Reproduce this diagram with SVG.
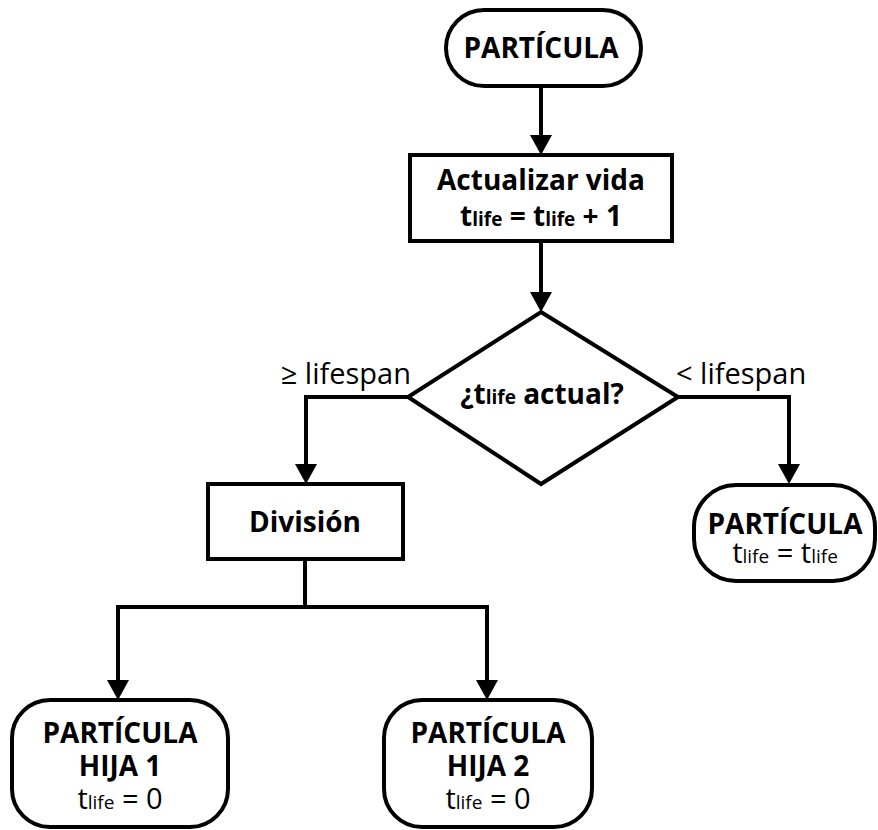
<svg xmlns="http://www.w3.org/2000/svg" width="878" height="830" viewBox="0 0 878 830">
  <style>
    .shape { fill: #ffffff; stroke: #000000; stroke-width: 4; }
    .wire { fill: none; stroke: #000000; stroke-width: 4; }
    text { font-family: "Open Sans", "Noto Sans", "DejaVu Sans", sans-serif; font-size: 29px; fill: #000000; text-anchor: middle; }
    .b { font-weight: bold; font-size: 28px; }
    .sub { font-size: 19px; }
    .lbl { text-anchor: start; }
    .lblr { text-anchor: end; }
  </style>
  <defs>
    <marker id="arrow" viewBox="0 0 20 22" refX="10" refY="11" markerWidth="20" markerHeight="22" markerUnits="userSpaceOnUse" orient="auto">
      <path d="M0,0 L20,11 L0,22 Z" fill="#000000"/>
    </marker>
  </defs>

  <!-- connectors -->
  <g id="connectors">
    <path class="wire" d="M541,86 V145" marker-end="url(#arrow)"/>
    <path class="wire" d="M541,241 V302" marker-end="url(#arrow)"/>
    <path class="wire" d="M408,397 H306 V474" marker-end="url(#arrow)"/>
    <path class="wire" d="M678,397 H789 V474" marker-end="url(#arrow)"/>
    <path class="wire" d="M305,559 V607"/>
    <path class="wire" d="M118,607 H487"/>
    <path class="wire" d="M118,605 V690" marker-end="url(#arrow)"/>
    <path class="wire" d="M487,605 V690" marker-end="url(#arrow)"/>
    <text class="lblr" x="411" y="384">≥ lifespan</text>
    <text class="lbl" x="676" y="384">&lt; lifespan</text>
  </g>

  <!-- start terminal -->
  <g id="start">
    <rect class="shape" x="446" y="10" width="195" height="76" rx="38" ry="38"/>
    <text class="b" x="541" y="58">PARTÍCULA</text>
  </g>

  <!-- life update -->
  <g id="update">
    <rect class="shape" x="410" y="155" width="262" height="86"/>
    <text class="b" x="541" y="190">Actualizar vida</text>
    <text class="b" x="541" y="226">t<tspan class="sub">life</tspan> = t<tspan class="sub">life</tspan> + 1</text>
  </g>

  <!-- decision -->
  <g id="decision">
    <polygon class="shape" points="541,312 678,397 541,484 408,397"/>
    <text class="b" x="542" y="404">¿t<tspan class="sub">life</tspan> actual?</text>
  </g>

  <!-- division -->
  <g id="division">
    <rect class="shape" x="208" y="484" width="195" height="75"/>
    <text class="b" x="305" y="532">División</text>
  </g>

  <!-- surviving particle -->
  <g id="survivor">
    <rect class="shape" x="694" y="485" width="181" height="96" rx="42" ry="42"/>
    <text class="b" x="785" y="534">PARTÍCULA</text>
    <text x="785" y="563">t<tspan class="sub">life</tspan> = t<tspan class="sub">life</tspan></text>
  </g>

  <!-- child 1 -->
  <g id="child1">
    <rect class="shape" x="12" y="700" width="216" height="127" rx="38" ry="38"/>
    <text class="b" x="120" y="743">PARTÍCULA</text>
    <text class="b" x="120" y="776">HIJA 1</text>
    <text x="120" y="809">t<tspan class="sub">life</tspan> = 0</text>
  </g>

  <!-- child 2 -->
  <g id="child2">
    <rect class="shape" x="384" y="700" width="208" height="127" rx="38" ry="38"/>
    <text class="b" x="488" y="743">PARTÍCULA</text>
    <text class="b" x="488" y="776">HIJA 2</text>
    <text x="488" y="809">t<tspan class="sub">life</tspan> = 0</text>
  </g>
</svg>
